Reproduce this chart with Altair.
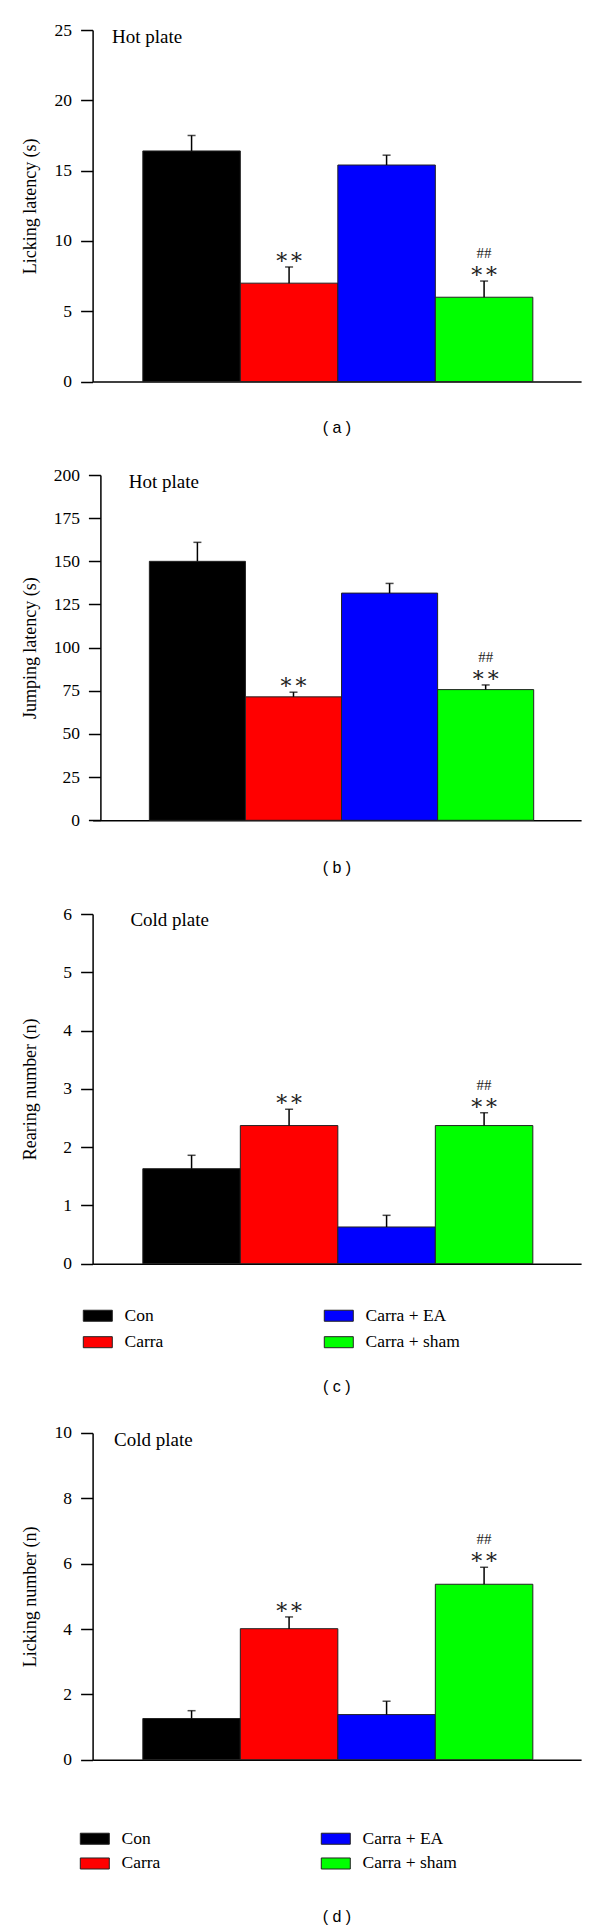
import altair as alt
import pandas as pd

# ---------------- data ----------------
groups = ["Con", "Carra", "Carra + EA", "Carra + sham"]
group_colors = ["#000000", "#ff0000", "#0000ff", "#00ff00"]

a_mean = [16.4, 7.0, 15.4, 6.0]
a_err = [1.1, 1.15, 0.7, 1.15]
b_mean = [150.0, 71.5, 131.6, 75.7]
b_err = [11.0, 2.7, 5.6, 2.7]
c_mean = [1.63, 2.37, 0.63, 2.37]
c_err = [0.23, 0.28, 0.20, 0.22]
d_mean = [1.26, 4.01, 1.38, 5.37]
d_err = [0.24, 0.36, 0.41, 0.52]

stars = ["", "\u2217\u2217", "", "\u2217\u2217"]
hashes = ["", "", "", "##"]

SERIF = "Liberation Serif"
SANS = "Liberation Sans"
PLOT_X = 91.5   # common left edge of the plot areas (page pixels)
WIDTH = 488.5


def make_legend(lx, ly, row_pad):
    return alt.Legend(
        orient="none", legendX=lx, legendY=ly, columns=2,
        columnPadding=158, rowPadding=row_pad, padding=0,
        symbolType="M-1,-0.38H1V0.38H-1Z", symbolSize=841,
        symbolStrokeColor="#222222", symbolStrokeWidth=1, symbolOpacity=1,
        labelFont=SERIF, labelFontSize=17.5, labelColor="black",
        labelOffset=11.7, title=None,
    )


def panel(mean, err, ymax, major, minor, ytitle, label, lx, ly, caption,
          height, cap_offset, legend=None, axis_shift=0.0,
          pad_outer=0.505, band_align=0.51):
    tops = [m + e for m, e in zip(mean, err)]
    df = pd.DataFrame({"group": groups, "mean": mean, "top": tops,
                       "stars": stars, "hashes": hashes})
    n = int(round(ymax / minor))
    tick_vals = [round(i * minor, 6) for i in range(n + 1)]
    is_major = f"abs(datum.value/{major} - round(datum.value/{major})) < 1e-6"

    x = alt.X("group:N", sort=groups,
              scale=alt.Scale(paddingInner=0, paddingOuter=pad_outer,
                              align=band_align),
              axis=alt.Axis(labels=False, ticks=False, title=None,
                            domainColor="black", domainWidth=1.5))
    yscale = alt.Scale(domain=[0, ymax], nice=False)
    yaxis = alt.Axis(
        values=tick_vals,
        labelExpr=f"{is_major} ? format(datum.value, 'd') : ''",
        tickSize={"condition": {"test": is_major, "value": 12}, "value": 5},
        tickColor="black", tickWidth=1.5, domainColor="black", domainWidth=1.5,
        labelFont=SERIF, labelFontSize=17.5, labelColor="black", labelPadding=9,
        titleFont=SERIF, titleFontSize=18, titleFontWeight="normal",
        titleColor="black", titleX=38.3 - PLOT_X - axis_shift,
        titleY=height / 2, titleBaseline="bottom", grid=False,
        offset=-axis_shift,
    )
    base = alt.Chart(df)
    bars = base.mark_bar(stroke="#222222", strokeWidth=1, opacity=1).encode(
        x=x,
        y=alt.Y("mean:Q", scale=yscale, axis=yaxis, title=ytitle),
        color=alt.Color("group:N",
                        scale=alt.Scale(domain=groups, range=group_colors),
                        legend=legend),
    )
    rule = base.mark_rule(color="black", strokeWidth=1.5).encode(
        x=x, y=alt.Y("mean:Q", title=ytitle), y2="top:Q")
    cap = base.mark_tick(color="black", thickness=1.5, size=8).encode(
        x=x, y=alt.Y("top:Q", title=ytitle))
    st = base.mark_text(font="DejaVu Serif", fontSize=22, dy=-10,
                        baseline="middle", color="#222222").encode(
        x=x, y=alt.Y("top:Q", title=ytitle), text="stars:N")
    hs = base.mark_text(font=SERIF, fontSize=15, dy=-28,
                        baseline="middle", color="#222222").encode(
        x=x, y=alt.Y("top:Q", title=ytitle), text="hashes:N")
    lbl = alt.Chart(pd.DataFrame({"t": [label]})).mark_text(
        font=SERIF, fontSize=19, align="left", baseline="middle",
        color="black").encode(x=alt.value(lx), y=alt.value(ly), text="t:N")

    return alt.layer(bars, rule, cap, st, hs, lbl).properties(
        width=WIDTH, height=height,
        title=alt.TitleParams(caption, orient="bottom", anchor="middle",
                              font=SANS, fontSize=16, fontWeight="normal",
                              color="black", offset=cap_offset),
    )


pa = panel(a_mean, a_err, 25, 5, 2.5, "Licking latency (s)", "Hot plate",
           19.5, 7.3, "( a )", 351.6, 30)
pb = panel(b_mean, b_err, 200, 25, 12.5, "Jumping latency (s)", "Hot plate",
           36.2, 7.0, "( b )", 345.3, 30.7, axis_shift=7.8,
           pad_outer=0.542, band_align=0.545)
pc = panel(c_mean, c_err, 6, 1, 0.5, "Rearing number (n)", "Cold plate",
           37.8, 6.0, "( c )", 349.7, 27.3,
           legend=make_legend(-9.8, 386.5, 2.7))
pd_ = panel(d_mean, d_err, 10, 2, 1, "Licking number (n)", "Cold plate",
            21.5, 6.7, "( d )", 326.7, 37,
            legend=make_legend(-12.8, 390.5, 1.0))

chart = alt.vconcat(pa, pb, pc, pd_, spacing=29).resolve_scale(
    color="independent", x="independent", y="independent"
).resolve_legend(color="independent").properties(
    padding={"left": 12.6, "top": 13, "right": 2, "bottom": 0},
    background="white",
).configure_view(stroke=None)

chart.save("out.html", embed_options={"renderer": "svg", "actions": False})
